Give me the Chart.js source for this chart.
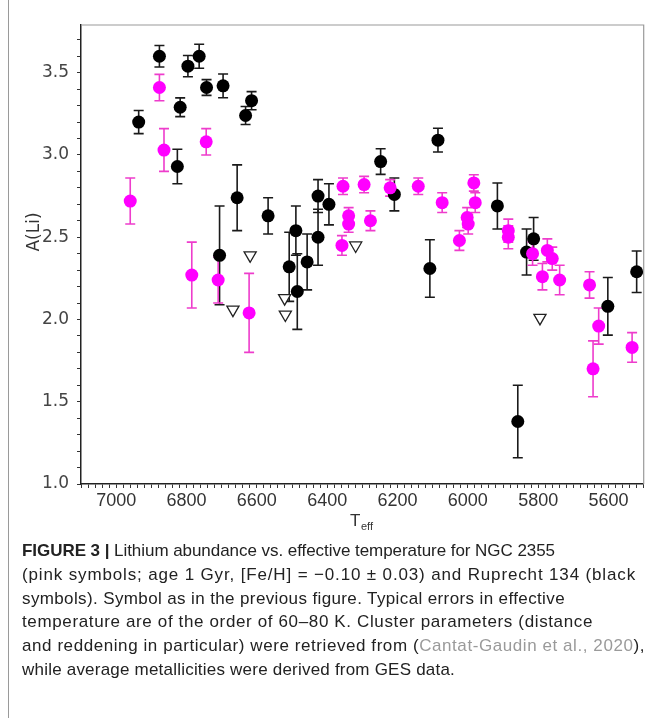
<!DOCTYPE html>
<html>
<head>
<meta charset="utf-8">
<script src="https://cdn.jsdelivr.net/npm/chart.js@4.4.1/dist/chart.umd.min.js"></script>
<style>
    html, body { margin: 0; padding: 0; background: #fff; }
    body { width: 652px; height: 718px; position: relative; overflow: hidden; }
    .frame { position: absolute; left: 8px; top: 0; bottom: 0; border-left: 1px solid #9a9a9a; }
    #wrap { position: absolute; left: 0; top: 0; width: 652px; height: 540px; }
    .caption {
        position: absolute; left: 22px; top: 539px; width: 630px;
        font-family: "Liberation Sans", Arial, sans-serif; font-size: 17px;
        line-height: 23.8px; color: #222;
    }
    .caption .ln { white-space: nowrap; }
    .caption .ln span { display: inline-block; }
    .caption b { font-weight: bold; }
    .caption .ref { color: #9a9a9a; }
</style>
</head>
<body>
<div class="frame"></div>
<div id="wrap"><canvas id="liChart" width="652" height="540"></canvas></div>
<div class="caption">
    <div class="ln"><span><b>FIGURE 3 |</b> Lithium abundance vs. effective temperature for NGC 2355</span></div>
    <div class="ln"><span>(pink symbols; age 1 Gyr, [Fe/H] = −0.10 ± 0.03) and Ruprecht 134 (black</span></div>
    <div class="ln"><span>symbols). Symbol as in the previous figure. Typical errors in effective</span></div>
    <div class="ln"><span>temperature are of the order of 60–80 K. Cluster parameters (distance</span></div>
    <div class="ln"><span>and reddening in particular) were retrieved from (<span class="ref">Cantat-Gaudin et al., 2020</span>),</span></div>
    <div class="ln"><span>while average metallicities were derived from GES data.</span></div>
</div>

<script>
// NGC 2355 (pink) - detections
const pinkTeff = [6960, 6877, 6864, 6744, 6785, 6710, 6622, 6355, 6339, 6339, 6358, 6295, 6277, 6221, 6141,
    6073, 5983, 5979, 6002, 5999, 6024, 5885, 5885, 5816, 5774, 5760, 5788, 5739, 5654, 5628, 5644, 5533];
const pinkALi = [2.72, 3.41, 3.03, 3.08, 2.27, 2.24, 2.04, 2.81, 2.63, 2.58, 2.45, 2.82, 2.60, 2.80, 2.81,
    2.71, 2.83, 2.71, 2.62, 2.58, 2.48, 2.54, 2.50, 2.40, 2.42, 2.37, 2.26, 2.24, 2.21, 1.96, 1.70, 1.83];
const pinkErr = [0.14, 0.08, 0.13, 0.08, 0.20, 0.14, 0.24, 0.05, 0.05, 0.05, 0.06, 0.05, 0.06, 0.05, 0.05,
    0.06, 0.05, 0.06, 0.06, 0.06, 0.06, 0.07, 0.07, 0.07, 0.07, 0.07, 0.08, 0.09, 0.08, 0.11, 0.17, 0.09];

// Ruprecht 134 (black) - detections
const blackTeff = [6936, 6877, 6818, 6826, 6796, 6764, 6743, 6696, 6632, 6615, 6656, 6568, 6706, 6508, 6489,
    6485, 6457, 6426, 6426, 6395, 6248, 6209, 6085, 6108, 5916, 5813, 5833, 5858, 5602, 5520];
const blackALi = [3.20, 3.60, 3.29, 2.93, 3.54, 3.60, 3.41, 3.42, 3.24, 3.33, 2.74, 2.63, 2.39, 2.32, 2.54,
    2.17, 2.35, 2.75, 2.50, 2.70, 2.96, 2.76, 3.09, 2.31, 2.69, 2.49, 2.41, 1.38, 2.08, 2.29];
const blackErr = [0.07, 0.065, 0.057, 0.105, 0.065, 0.073, 0.048, 0.072, 0.055, 0.055, 0.20, 0.11, 0.30, 0.21, 0.15,
    0.23, 0.17, 0.10, 0.17, 0.125, 0.078, 0.10, 0.072, 0.175, 0.14, 0.13, 0.14, 0.22, 0.175, 0.126];

// upper limits (open triangles)
const limitTeff = [6668, 6619, 6521, 6519, 6319, 5795];
const limitALi = [2.06, 2.39, 2.13, 2.03, 2.45, 2.01];

// caption line right edges in the figure, px
const captionEnds = [555, 636, 565, 593, 645, 455];

const toPoints = (xs, ys) => xs.map((x, i) => ({ x, y: ys[i] }));

// stretch each caption line to the width it has in the figure
document.querySelectorAll('.caption .ln > span').forEach((el, i) => {
    const natural = el.getBoundingClientRect().right;
    const chars = el.textContent.length;
    el.style.letterSpacing = ((captionEnds[i] - natural) / chars).toFixed(3) + 'px';
});

// vertical error bars with caps, drawn under the markers
const errorBars = {
    id: 'errorBars',
    beforeDatasetsDraw(chart) {
        const { ctx, scales: { x, y } } = chart;
        // black first, pink on top
        [1, 0].forEach(idx => {
            const ds = chart.data.datasets[idx];
            if (!ds.errors) return;
            ctx.save();
            ctx.strokeStyle = ds.barColor;
            ctx.lineWidth = 1.6;
            ds.data.forEach((p, i) => {
                const px = x.getPixelForValue(p.x);
                const top = y.getPixelForValue(p.y + ds.errors[i]);
                const bot = y.getPixelForValue(p.y - ds.errors[i]);
                ctx.beginPath();
                ctx.moveTo(px, top); ctx.lineTo(px, bot);
                ctx.moveTo(px - 5, top); ctx.lineTo(px + 5, top);
                ctx.moveTo(px - 5, bot); ctx.lineTo(px + 5, bot);
                ctx.stroke();
            });
            ctx.restore();
        });
    }
};

// top/right frame and the axis titles
const frameAndTitles = {
    id: 'frameAndTitles',
    afterDraw(chart) {
        const { ctx, chartArea: a } = chart;
        ctx.save();
        ctx.strokeStyle = '#9a9a9a';
        ctx.lineWidth = 1.2;
        ctx.beginPath();
        ctx.moveTo(a.left, a.top); ctx.lineTo(a.right, a.top); ctx.lineTo(a.right, a.bottom);
        ctx.stroke();

        ctx.fillStyle = '#333';
        ctx.textBaseline = 'alphabetic';
        ctx.font = '17px "Liberation Sans", Arial, sans-serif';
        ctx.fillText('T', 350, 526);
        ctx.font = '11px "Liberation Sans", Arial, sans-serif';
        ctx.fillText('eff', 361, 530);

        ctx.translate(39, 232);
        ctx.rotate(-Math.PI / 2);
        ctx.textAlign = 'center';
        ctx.font = '17px "DejaVu Sans", sans-serif';
        ctx.fillText('A(Li)', 0, 0);
        ctx.restore();
    }
};

const ctx = document.getElementById('liChart').getContext('2d');
new Chart(ctx, {
    type: 'scatter',
    data: {
        datasets: [
            {
                label: 'NGC 2355',
                data: toPoints(pinkTeff, pinkALi),
                errors: pinkErr,
                barColor: '#ee3ccc',
                backgroundColor: '#ff00ff',
                borderWidth: 0,
                pointRadius: 6.5
            },
            {
                label: 'Ruprecht 134',
                data: toPoints(blackTeff, blackALi),
                errors: blackErr,
                barColor: '#1a1a1a',
                backgroundColor: '#000',
                borderWidth: 0,
                pointRadius: 6.5
            },
            {
                label: 'upper limits',
                data: toPoints(limitTeff, limitALi),
                pointStyle: 'triangle',
                rotation: 180,
                backgroundColor: '#fff',
                borderColor: '#222',
                borderWidth: 1.3,
                pointRadius: 7
            }
        ]
    },
    options: {
        responsive: false,
        animation: false,
        events: [],
        layout: { padding: { top: 25, right: 5, left: 0, bottom: 0 } },
        plugins: { legend: { display: false }, tooltip: { enabled: false } },
        scales: {
            x: {
                type: 'linear',
                reverse: true,
                min: 5500,
                max: 7100,
                afterFit: scale => { scale.height = 56; },
                border: { color: '#222', width: 1.5 },
                grid: { drawOnChartArea: false, tickLength: 4, color: '#333' },
                ticks: {
                    stepSize: 20,
                    autoSkip: false,
                    maxRotation: 0,
                    maxTicksLimit: 200,
                    padding: 2,
                    color: '#333',
                    font: { family: '"Liberation Sans Narrow", "Liberation Sans", Arial, sans-serif', size: 18 },
                    callback: v => (Math.round(v) % 200 === 0 ? String(Math.round(v)) : '')
                }
            },
            y: {
                min: 1.0,
                max: 3.79,
                afterFit: scale => { scale.width = 81; },
                border: { color: '#222', width: 1.5 },
                grid: { drawOnChartArea: false, tickLength: 4, color: '#333' },
                ticks: {
                    stepSize: 0.1,
                    includeBounds: false,
                    autoSkip: false,
                    maxTicksLimit: 100,
                    padding: 8,
                    color: '#444',
                    font: { family: '"DejaVu Sans", sans-serif', size: 17 },
                    callback: v => (Math.abs(v * 2 - Math.round(v * 2)) < 1e-6 ? v.toFixed(1) : '')
                }
            }
        }
    },
    plugins: [errorBars, frameAndTitles]
});
</script>
</body>
</html>
